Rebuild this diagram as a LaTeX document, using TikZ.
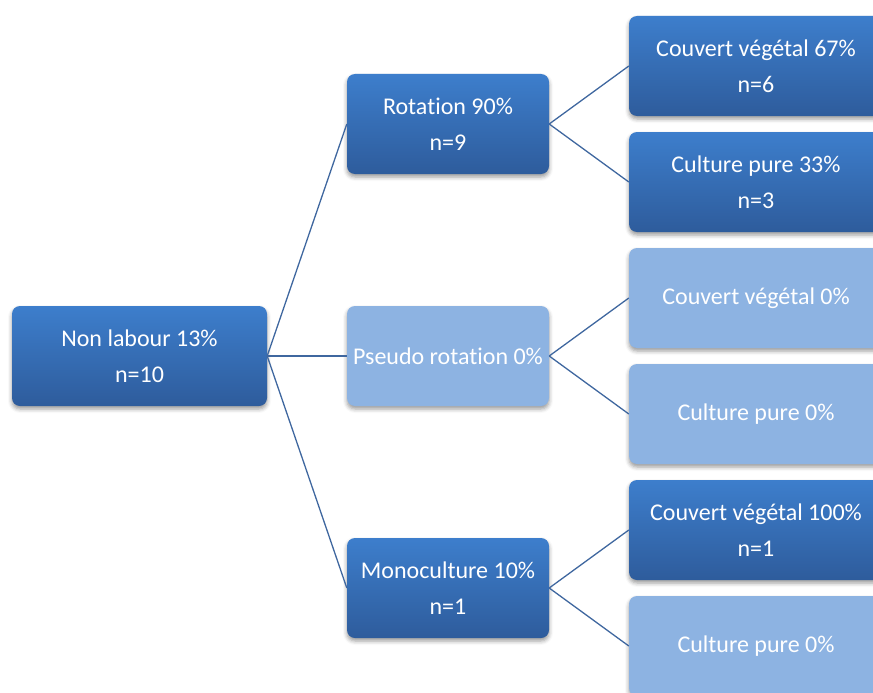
\documentclass[tikz,border=0pt]{standalone}
\usepackage{fontspec}
\setmainfont{Carlito}[Ligatures=CommonOff]
\usetikzlibrary{shadows.blur}
\definecolor{dtop}{HTML}{3D7ECC}
\definecolor{dbot}{HTML}{2E5C9C}
\definecolor{light}{HTML}{8DB3E2}
\definecolor{conn}{HTML}{3F679F}
\tikzset{
  base/.style={rounded corners=8pt, text=white, align=center,
    font=\fontsize{24}{36}\selectfont, minimum height=100pt, inner sep=0pt,
    blur shadow={shadow xshift=0pt, shadow yshift=-3pt, shadow blur radius=4pt, shadow opacity=40}},
  darkbox/.style={base, top color=dtop, bottom color=dbot},
  lightbox/.style={base, fill=light},
  rootw/.style={minimum width=255pt},
  midw/.style={minimum width=202pt},
  rightw/.style={minimum width=254pt},
  link/.style={draw=conn, line width=1.3pt}
}
\begin{document}
\begin{tikzpicture}[x=1pt,y=-1pt]
\useasboundingbox (0,0) rectangle (873,693);
\clip (0,0) rectangle (873,693);
\node[darkbox, rootw] (root) at (139.5,356) {Non labour 13\%\\n=10};
\node[darkbox, midw] (rot) at (448,124) {Rotation 90\%\\n=9};
\node[lightbox, midw] (pseudo) at (448,356) {Pseudo rotation 0\%};
\node[darkbox, midw] (mono) at (448,588) {Monoculture 10\%\\n=1};
\node[darkbox, rightw] (r1) at (756,66) {Couvert végétal 67\%\\n=6};
\node[darkbox, rightw] (r2) at (756,182) {Culture pure 33\%\\n=3};
\node[lightbox, rightw] (r3) at (756,298) {Couvert végétal 0\%};
\node[lightbox, rightw] (r4) at (756,414) {Culture pure 0\%};
\node[darkbox, rightw] (r5) at (756,530) {Couvert végétal 100\%\\n=1};
\node[lightbox, rightw] (r6) at (756,646) {Culture pure 0\%};
\draw[link] (root.east) -- (rot.west);
\draw[link] (root.east) -- (pseudo.west);
\draw[link] (root.east) -- (mono.west);
\draw[link] (rot.east) -- (r1.west);
\draw[link] (rot.east) -- (r2.west);
\draw[link] (pseudo.east) -- (r3.west);
\draw[link] (pseudo.east) -- (r4.west);
\draw[link] (mono.east) -- (r5.west);
\draw[link] (mono.east) -- (r6.west);
\end{tikzpicture}
\end{document}
